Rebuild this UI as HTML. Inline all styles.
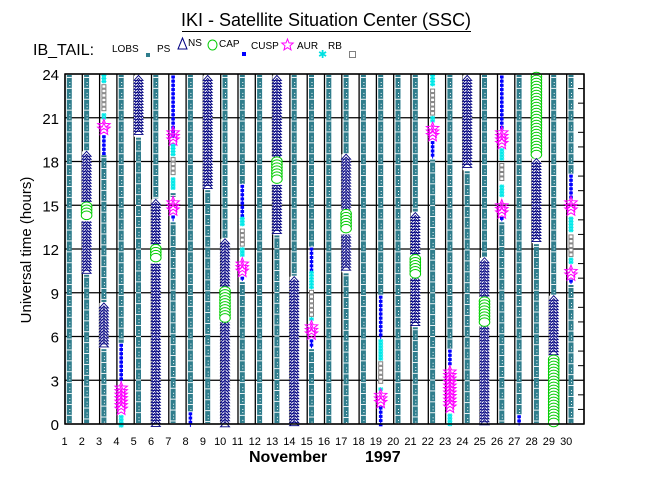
<!DOCTYPE html>
<html><head><meta charset="utf-8"><style>
html,body{margin:0;padding:0;background:#fff;}
svg{display:block;font-family:"Liberation Sans",sans-serif;}
</style></head><body>
<svg id="s" width="650" height="500" viewBox="0 0 650 500" xmlns="http://www.w3.org/2000/svg">
<rect width="650" height="500" fill="#fff"/>
<text x="326" y="26" font-size="18" text-anchor="middle">IKI - Satellite Situation Center (SSC)</text>
<line x1="182" y1="31.5" x2="471" y2="31.5" stroke="#000" stroke-width="1"/>
<text x="33" y="55" font-size="16">IB_TAIL:</text>
<g font-size="10">
<text x="112" y="52">LOBS</text>
<rect x="146" y="53" width="4" height="4" fill="#2f7d8c"/>
<text x="157" y="52">PS</text>
<polygon points="182.5,38 178,49 187,49" fill="none" stroke="#000080"/>
<text x="188" y="46">NS</text>
<ellipse cx="212.5" cy="45" rx="4.5" ry="5" fill="none" stroke="#00cc00"/>
<text x="219" y="47">CAP</text>
<rect x="242" y="52" width="4" height="4" fill="#0000ff"/>
<text x="251" y="49">CUSP</text>
<polygon id="lstar" fill="none" stroke="#ff00ff"/>
<text x="297" y="49">AUR</text>
<text x="318" y="58" font-size="11" fill="#00e0e0">✱</text>
<text x="328" y="49">RB</text>
<rect x="349.5" y="51.5" width="6" height="6" fill="none" stroke="#808080"/>
</g>
<g id="grid"></g>
<g id="data"></g>
<g id="frame"></g>
<text transform="translate(31,250) rotate(-90)" font-size="15" text-anchor="middle">Universal time (hours)</text>
<g id="ylab" font-size="15" text-anchor="end"></g>
<g id="xlab" font-size="11" text-anchor="middle"></g>
<text x="249" y="462" font-size="16" font-weight="bold">November</text>
<text x="365" y="462" font-size="16" font-weight="bold">1997</text>
</svg>
<script>
(function(){
var NS_="http://www.w3.org/2000/svg";
function el(p,t,a){var e=document.createElementNS(NS_,t);for(var k in a)e.setAttribute(k,a[k]);p.appendChild(e);return e;}
var X0=65,W=17.3,YT=74,YB=424,S=350/24;
function xc(d){return X0+W*(d-1)+4.3;}
function yh(h){return YB-h*S;}
function star(cx,cy,r1,r2){var p=[];for(var i=0;i<10;i++){var a=-Math.PI/2+i*Math.PI/5,r=i%2?r2:r1;p.push((cx+r*Math.cos(a)).toFixed(1)+","+(cy+r*Math.sin(a)).toFixed(1));}return p.join(" ");}
document.getElementById("lstar").setAttribute("points",star(287.5,45,6,2.6));
var grid=document.getElementById("grid"),frame=document.getElementById("frame");
for(var h=0;h<=24;h+=3){el(grid,"line",{x1:X0,x2:584,y1:yh(h),y2:yh(h),stroke:"#000","stroke-width":1.3});
 var t=el(document.getElementById("ylab"),"text",{x:59,y:yh(h)+6});t.textContent=h;}
for(var d=0;d<=30;d++){var x=X0+W*d;el(grid,"line",{x1:x,x2:x,y1:YT,y2:YB,stroke:"#000","stroke-width":1.3});}
for(var d=1;d<=30;d++){var t=el(document.getElementById("xlab"),"text",{x:X0+W*(d-1)-0.5,y:445});t.textContent=d;}
for(var h=1;h<24;h++){if(h%3)el(frame,"line",{x1:578,x2:584,y1:yh(h),y2:yh(h),stroke:"#000"});}
el(frame,"rect",{x:X0,y:YT,width:519,height:YB-YT,fill:"none",stroke:"#000","stroke-width":1.5});
var D={
2:[["NS",18.7,10.3],["CAP",15.2,13.9]],
3:[["CY",24,23.3],["RB",23.3,21.3],["CY",21.3,20.7],["AUR",20.8,19.8],["CU",19.8,18.5],["NS",8.3,5.2]],
4:[["CU",5.5,2.8],["AUR",2.8,0.6],["CY",0.6,-0.3]],
5:[["NS",23.9,19.7]],
6:[["NS",15.4,-0.2],["CAP",12.3,11]],
7:[["CU",23.9,19.6],["AUR",20.3,19.2],["CY",19.2,18.3],["RB",18.3,16.9],["CY",16.9,15.9],["AUR",15.5,14.3],["CU",14.3,13.9]],
8:[["CU",0.8,-0.2]],
9:[["NS",23.9,16.1]],
10:[["NS",12.7,-0.2],["CAP",9.4,7]],
11:[["CU",16.4,14.2],["CY",14.2,13.4],["RB",13.4,12.1],["CY",12.1,11.3],["AUR",11.3,10.1],["CU",10.1,9.8]],
13:[["NS",23.9,13],["CAP",18.3,16.4]],
14:[["NS",10.1,-0.2]],
15:[["CU",12.1,10.5],["CY",10.5,9.2],["RB",9.2,7.3],["CY",7.3,7],["AUR",7,5.8],["CU",5.8,5.2]],
17:[["NS",18.5,10.4],["CAP",14.7,13]],
19:[["CU",8.8,5.8],["CY",5.8,4.3],["RB",4.3,2.5],["CY",2.5,2.2],["AUR",2.3,1.2],["CU",1.2,-0.1]],
21:[["NS",14.5,6.7],["CAP",11.6,10]],
22:[["CY",24,23],["RB",23,21.1],["CY",21.1,20.5],["AUR",20.6,19.4],["CU",19.4,18.2]],
23:[["CU",5.1,3.9],["AUR",3.9,0.7],["CY",0.7,-0.3]],
24:[["NS",23.9,17.4]],
25:[["NS",11.4,-0.2],["CAP",8.7,6.7]],
26:[["CU",23.9,20.1],["AUR",20.3,18.9],["CY",18.9,17.9],["RB",17.9,16.4],["CY",16.4,15.4],["AUR",15.3,14.2],["CU",14.2,13.9]],
27:[["CU",0.6,-0.1]],
28:[["CAP",24.1,18.2],["NS",18.2,12.4]],
29:[["NS",8.8,4.7],["CAP",4.7,-0.3]],
30:[["CU",17.1,15.5],["AUR",15.5,14.2],["CY",14.2,13],["RB",13,11.4],["CY",11.4,10.8],["AUR",10.8,9.9],["CU",9.9,9.6]]
};
var G=document.getElementById("data");
function lobs(x,h1,h2){var y1=yh(h1)+1,y2=yh(h2)-1;if(y2-y1<2)return;
 el(G,"rect",{x:x-2.5,y:y1,width:5,height:y2-y1,fill:"#2f7d8c"});
 for(var y=y1+2;y<y2-1;y+=10.9){el(G,"rect",{x:x-2.5,y:y,width:5,height:0.9,fill:"#fff"});
  el(G,"rect",{x:x,y:y+5,width:1,height:1,fill:"#fff"});el(G,"rect",{x:x,y:y+8,width:1,height:1,fill:"#fff"});}}
for(var d=1;d<=30;d++){
 var x=xc(d),segs=(D[d]||[]);
 var cov=segs.map(function(s){return [Math.min(24,s[1]),Math.max(0,s[2])];}).sort(function(a,b){return b[0]-a[0];});
 var tp=24;
 cov.forEach(function(c){if(c[0]<tp-0.05)lobs(x,tp,c[0]);tp=Math.min(tp,c[1]);});
 if(tp>0.05)lobs(x,tp,0);
 segs.forEach(function(s){var t=s[0],y1=yh(s[1]),y2=yh(s[2]),y;
  if(t=="NS"){el(G,"rect",{x:x-4.5,y:y1,width:9,height:y2-y1,fill:"#fff"});
   for(y=y1;y<=y2-5;y+=3)el(G,"polygon",{points:x+","+y+" "+(x-4.5)+","+(y+5)+" "+(x+4.5)+","+(y+5),fill:"none",stroke:"#000080","stroke-width":0.9});}
  else if(t=="CAP"){el(G,"rect",{x:x-5.5,y:y1,width:11,height:y2-y1,fill:"#fff"});
   for(y=y1+4;y<=y2-4;y+=3)el(G,"ellipse",{cx:x,cy:y,rx:5.3,ry:4.3,fill:"#fff",stroke:"#00cc00","stroke-width":1});}
  else if(t=="CU"){el(G,"line",{x1:x,x2:x,y1:y1,y2:y2,stroke:"#0000ff"});
   for(y=y1;y<=y2-2;y+=4.2)el(G,"rect",{x:x-1.8,y:y,width:3.6,height:3,fill:"#0000ff"});}
  else if(t=="CY"){for(y=y1+1.5;y<=y2-1.5;y+=3){el(G,"line",{x1:x-2.5,x2:x+2.5,y1:y,y2:y,stroke:"#00e8e8"});el(G,"line",{x1:x,x2:x,y1:y-2,y2:y+2,stroke:"#00e8e8"});el(G,"line",{x1:x-2,x2:x+2,y1:y-1.5,y2:y+1.5,stroke:"#00e8e8"});el(G,"line",{x1:x-2,x2:x+2,y1:y+1.5,y2:y-1.5,stroke:"#00e8e8"});}}
  else if(t=="RB"){el(G,"rect",{x:x-2.5,y:y1,width:5,height:y2-y1,fill:"#fff"});
   for(y=y1+0.5;y<=y2-3.5;y+=4.5)el(G,"rect",{x:x-2,y:y,width:4,height:3.5,fill:"#fff",stroke:"#808080","stroke-width":1});}
  else if(t=="AUR"){for(y=y1+5;y<=y2-4;y+=3.5)el(G,"polygon",{points:star(x,y,6.5,2.8),fill:"none",stroke:"#ff00ff","stroke-width":1});
   if(y2-y1<10)el(G,"polygon",{points:star(x,(y1+y2)/2,6.5,2.8),fill:"none",stroke:"#ff00ff","stroke-width":1});}
 });
}
})();
</script>
</body></html>
